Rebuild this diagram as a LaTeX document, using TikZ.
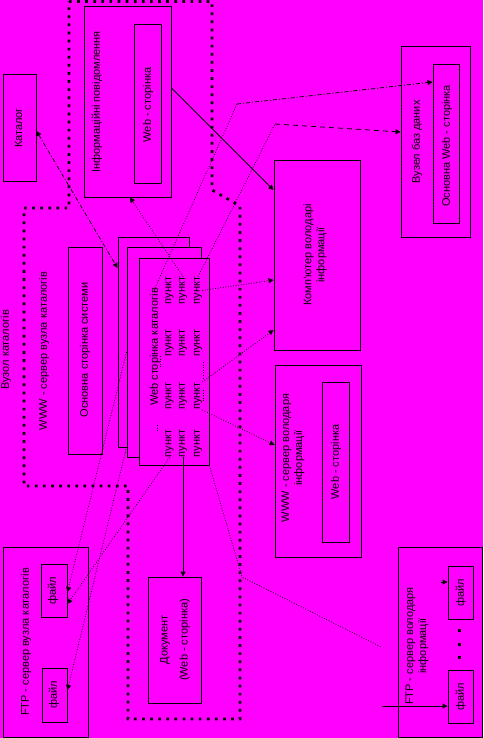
\documentclass[tikz,border=0pt]{standalone}
\usepackage{fontspec}
\setmainfont{Liberation Sans}
\usetikzlibrary{arrows.meta,calc}
\definecolor{bgmag}{RGB}{255,0,255}
\begin{document}
\begin{tikzpicture}[x=1pt,y=-1pt,
  font=\fontsize{11}{13}\selectfont,
  box/.style={draw=black, line width=0.9pt, fill=bgmag, inner sep=0pt},
  lbl/.style={rotate=90, inner sep=0pt, align=center, text=black},
  dotconn/.style={line width=0.8pt, dash pattern=on 0.8pt off 1.8pt},
  dashconn/.style={line width=0.8pt, dash pattern=on 5pt off 4pt},
  dashdotconn/.style={line width=0.8pt, dash pattern=on 4pt off 2pt on 1pt off 2pt},
  solidconn/.style={line width=0.9pt},
  tip/.style={-{Triangle[length=5pt,width=5pt]}},
  bound/.style={line width=2.7pt, dash pattern=on 2.7pt off 5.4pt}
]
\fill[bgmag] (0,0) rectangle (483,738);
\useasboundingbox (0,0) rectangle (483,738);

% dotted boundary of the catalogue node
\draw[bound] (69,1.5) -- (212,1.5) -- (212,190) -- (240,206) -- (240,719) -- (128,719) -- (128,486) -- (24,486) -- (24,208) -- (69,208) -- cycle;

% boxes
\node[box, minimum width=87pt, minimum height=191pt] (info) at (127.5,101.5) {};
\node[box, minimum width=27pt, minimum height=159pt] (infoweb) at (147.5,103.5) {};
\node[box, minimum width=33pt, minimum height=107pt] (katalog) at (19.5,127.5) {};
\node[box, minimum width=34pt, minimum height=207pt] (osn) at (85,350.5) {};
\node[box, minimum width=86pt, minimum height=190pt] (comp) at (317,255) {};
\node[box, minimum width=86pt, minimum height=192pt] (wwwo) at (318,461) {};
\node[box, minimum width=27pt, minimum height=160pt] (wwwoweb) at (335.5,462) {};
\node[box, minimum width=69pt, minimum height=191pt] (bazy) at (435.5,141.5) {};
\node[box, minimum width=26pt, minimum height=159pt] (bazyweb) at (446,143.5) {};
\node[box, minimum width=53pt, minimum height=126pt] (doc) at (174.5,640) {};
\node[box, minimum width=85pt, minimum height=190pt] (ftpk) at (45.5,642) {};
\node[box, minimum width=26pt, minimum height=53pt] (fk1) at (54,590.5) {};
\node[box, minimum width=25pt, minimum height=54pt] (fk2) at (54.5,695) {};
\node[box, minimum width=84pt, minimum height=190pt] (ftpo) at (440,642) {};
\node[box, minimum width=25pt, minimum height=53pt] (fo1) at (460.5,592.5) {};
\node[box, minimum width=25pt, minimum height=53pt] (fo2) at (460.5,696.5) {};

% stacked catalogue pages
\node[box, minimum width=71pt, minimum height=210pt] (card1) at (153.5,342) {};
\node[box, minimum width=74pt, minimum height=210pt] (card2) at (164,352) {};
\node[box, minimum width=70pt, minimum height=207pt] (card3) at (174,361.5) {};

% texts
\node[lbl] (tinfo) at (97,102) {Інформаційні повідомлення};
\node[lbl] (tinfoweb) at (148,105) {Web - сторінка};
\node[lbl] (tkat) at (18.5,128) {Каталог};
\node[lbl] (tvk) at (6,350) {Вузол каталогів};
\node[lbl] (twwwk) at (44,351) {WWW - сервер вузла каталогів};
\node[lbl] (tosn) at (85,350) {Основна сторінка системи};
\node[lbl] (ttl) at (155,347) {Web сторінка каталогів};
\foreach \r/\yy in {1/290.5,2/343,3/396,4/443.5}{
  \foreach \c/\xx in {1/169.5,2/183,3/198}{
    \node[lbl] (p\r\c) at (\xx,\yy) {пункт};
  }
}
\node[lbl] (tcomp) at (315,255) {Комп'ютер володарі\\інформації};
\node[lbl] (twwwo) at (293,458) {WWW - сервер володаря\\інформації};
\node[lbl] (twwwoweb) at (336,462) {Web - сторінка};
\node[lbl] (tbazy) at (417,142) {Вузел баз даних};
\node[lbl] (tbazyweb) at (447,146) {Основна Web - сторінка};
\node[lbl] (tdoc) at (175,640) {Документ\\[7pt](Web - сторінка)};
\node[lbl] (tftpk) at (26,642) {FTP - сервер вузла каталогів};
\node[lbl] (tfk1) at (53,591) {файл};
\node[lbl] (tfk2) at (54,695) {файл};
\node[lbl] (tftpo) at (417,646) {FTP - сервер володаря\\інформації};
\node[lbl] (tfo1) at (461,593) {файл};
\node[lbl] (tfo2) at (461,697) {файл};

% three dots between the files
\foreach \yy [count=\i] in {630.5,644,657.5}{
  \fill[black] (457.5,\yy-1.5) rectangle ++(3,3);
}

% helper coordinates
\coordinate (c4m) at (237,104);
\coordinate (c5m) at (275,124);
\coordinate (c13m) at (242,577);
\coordinate (c13e) at (381,647);
\coordinate (c14s) at (441,582);
\coordinate (c15s) at (382,706);

% connectors
\draw[solidconn, tip] (info.east |- 0,88) -- (comp.west |- 0,190);
\draw[dashdotconn, {Triangle[length=5pt,width=5pt]}-{Triangle[length=5pt,width=5pt]}] (katalog.east |- 0,131) -- (card1.west |- 0,268);
\draw[dotconn, tip] (p12.east) -- (info.south -| 130,0);
\draw[dotconn] (ttl.east) -- (c4m);
\draw[dashdotconn, tip] (c4m) -- (bazyweb.west |- 0,82);
\draw[dotconn] (p13.east) -- (c5m);
\draw[dashconn, tip] (c5m) -- (bazy.west |- 0,132);
\draw[dotconn, tip] (p13.south) -- (comp.west |- 0,280);
\draw[dotconn, tip] (p33.south east) -- (comp.west |- 0,330);
\draw[dotconn, tip] (p33.south west) -- (wwwo.west |- 0,445);
\draw[solidconn, tip] (p42.west) -- (p42.west |- doc.north);
\draw[dotconn, tip] (card2.west |- 0,352) -- (fk1.east |- 0,592);
\draw[dotconn, tip] (p41.west) -- (fk1.east |- 0,604);
\draw[dotconn, tip] (card2.west |- 0,447) -- (fk2.east |- 0,690);
\draw[dotconn] (card3.south east) -- (c13m) -- (c13e);
\draw[solidconn, tip] (c14s) -- (fo1.west |- 0,582);
\draw[solidconn, tip] (c15s) -- (fo2.west |- 0,706);

% small dotted fragments on the catalogue page
\draw[dotconn] (160,356) -- (160,368);
\draw[dotconn] (203,362) -- (203,380);
\draw[dotconn] (203,390) -- (203,402);
\draw[dotconn] (157,425) -- (157,432);
\end{tikzpicture}
\end{document}
